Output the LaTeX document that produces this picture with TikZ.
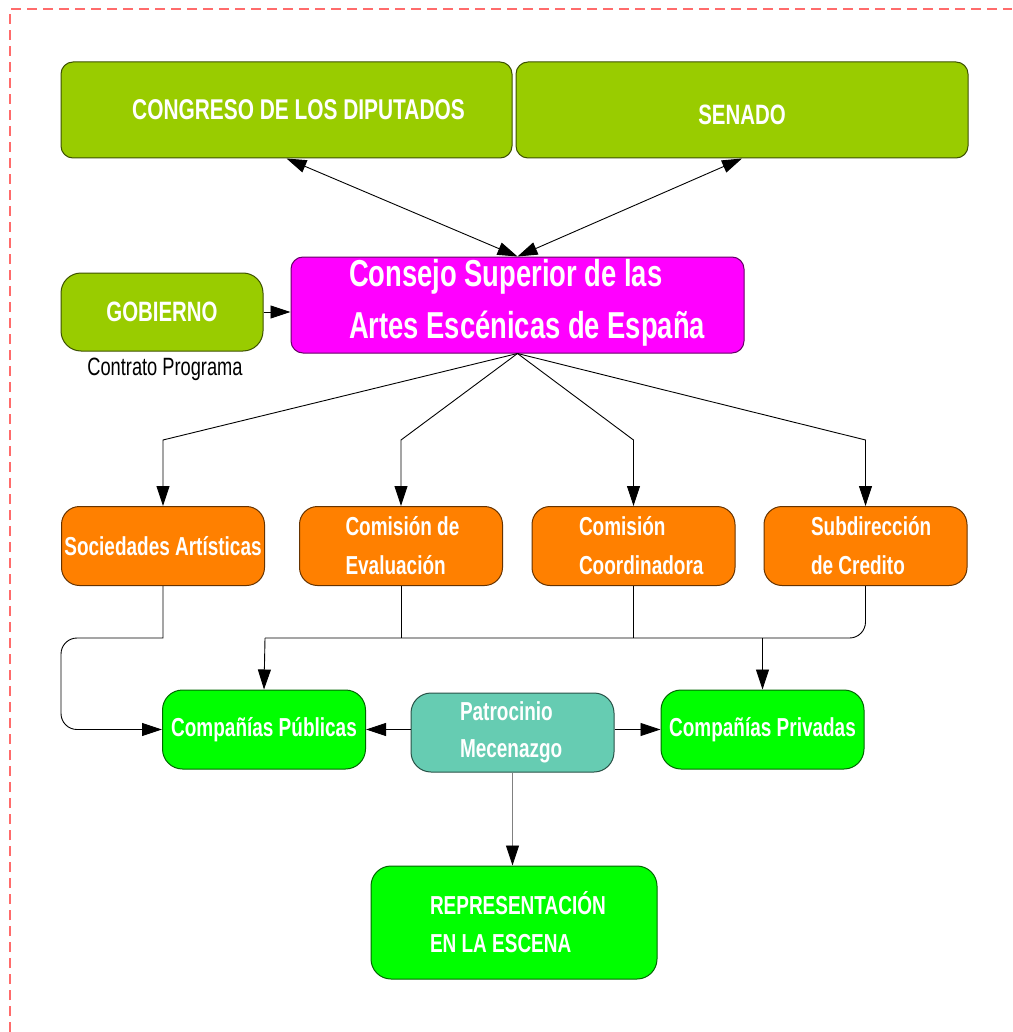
\documentclass[tikz,border=0pt]{standalone}
\usepackage{fontspec}
\setmainfont{Liberation Sans}[FakeStretch=0.73]
\usetikzlibrary{arrows.meta}
\definecolor{cgreen}{HTML}{99CC00}
\definecolor{cmag}{HTML}{FF00FF}
\definecolor{corange}{HTML}{FF8000}
\definecolor{clime}{HTML}{00FF00}
\definecolor{cteal}{HTML}{66CCB2}
\definecolor{cborder}{HTML}{FF6B6B}
\newcommand\twoline[5]{\makebox[#1pt][l]{\hspace*{#2pt}\vbox{\baselineskip=#3pt\hbox{#4}\hbox{#5}}}}
\tikzset{
  box/.style={draw=#1!40!black, fill=#1, line width=1pt, inner sep=0pt, text=white},
  arr/.style={-{Triangle[length=20pt,width=13pt,color=black]}, line width=0.9pt, black},
  greyarr/.style={-{Triangle[length=20pt,width=13pt,color=black]}, line width=0.9pt, draw=black!50},
  darr/.style={{Triangle[length=20pt,width=13pt]}-{Triangle[length=20pt,width=13pt]}, line width=0.9pt, black},
  wire/.style={line width=0.9pt, black},
}
\begin{document}
\begin{tikzpicture}[x=1pt,y=-1pt]
\useasboundingbox (0,0) rectangle (1012,1032);
\fill[white] (0,0) rectangle (1012,1032);
\draw[cborder, line width=1.2pt, dash pattern=on 10pt off 6pt] (10,1032) -- (10,9) -- (1012,9);

% top row
\node[box=cgreen, minimum width=451, minimum height=96, rounded corners=12pt,
      font=\bfseries\fontsize{28.6}{31}\selectfont] (congreso) at (286.5,110)
      {\hspace*{24pt}CONGRESO DE LOS DIPUTADOS};
\node[box=cgreen, minimum width=452, minimum height=96, rounded corners=12pt,
      font=\bfseries\fontsize{28}{31}\selectfont] (senado) at (742,110)
      {\raisebox{-5pt}[\height][\depth]{SENADO}};

% consejo
\node[box=cmag, minimum width=453, minimum height=96, rounded corners=12pt,
      font=\bfseries\fontsize{37.5}{41}\selectfont] (consejo) at (517.5,305)
      {\raisebox{2pt}[\height][\depth]{\twoline{453}{58}{52}{Consejo Superior de las}{Artes Escénicas de España}}};

\node[box=cgreen, minimum width=202, minimum height=78, rounded corners=20pt,
      font=\bfseries\fontsize{28}{31}\selectfont] (gobierno) at (162,312) {GOBIERNO};
\node[font=\fontsize{25}{27}\selectfont, inner sep=0pt] (contrato) at (165,369) {Contrato Programa};

% orange row
\tikzset{orangebox/.style={box=corange, minimum width=203, minimum height=79, rounded corners=18pt,
      font=\bfseries\fontsize{26}{29}\selectfont}}
\node[orangebox] (sociedades) at (163,546) {Sociedades Artísticas};
\node[orangebox] (evaluacion) at (401,546) {\twoline{203}{46}{39}{Comisión de}{Evaluación}};
\node[orangebox] (coordinadora) at (633.5,546) {\twoline{203}{47}{39}{Comisión}{Coordinadora}};
\node[orangebox] (subdireccion) at (865.5,546) {\twoline{203}{47}{39}{Subdirección}{de Credito}};

% green row
\tikzset{limebox/.style={box=clime, minimum width=203, minimum height=79, rounded corners=20pt,
      font=\bfseries\fontsize{26}{29}\selectfont}}
\node[limebox] (publicas) at (264,729.5) {Compañías Públicas};
\node[limebox] (privadas) at (762.5,729.5) {Compañías Privadas};
\node[box=cteal, minimum width=203, minimum height=79, rounded corners=20pt,
      font=\bfseries\fontsize{26}{29}\selectfont] (patrocinio) at (512.5,732.5)
      {\twoline{203}{49}{37}{Patrocinio}{Mecenazgo}};

\node[box=clime, minimum width=286, minimum height=113, rounded corners=20pt,
      font=\bfseries\fontsize{26}{29}\selectfont] (rep) at (514,922.5)
      {\twoline{286}{59}{38}{REPRESENTACIÓN}{EN LA ESCENA}};

% connectors
\draw[darr] (congreso.south) -- (consejo.north);
\draw[darr] (senado.south) -- (consejo.north);
\draw[arr] (gobierno.east) -- (gobierno.east -| consejo.west);

\draw[arr] (consejo.south) -- (sociedades.north |- 0,440) -- (sociedades.north);
\draw[arr] (consejo.south) -- (evaluacion.north |- 0,440) -- (evaluacion.north);
\draw[arr] (consejo.south) -- (coordinadora.north |- 0,440) -- (coordinadora.north);
\draw[arr] (consejo.south) -- (subdireccion.north |- 0,440) -- (subdireccion.north);

\coordinate (busL) at (265,638);
\draw[arr] (sociedades.south) -- (sociedades.south |- busL) [rounded corners=16pt] -- (61,638) -- (61,729.5) -- (publicas.west);
\draw[wire] (evaluacion.south) -- (evaluacion.south |- busL);
\draw[wire] (coordinadora.south) -- (coordinadora.south |- busL);
\draw[wire, rounded corners=16pt] (subdireccion.south) -- (subdireccion.south |- busL) -- (busL);
\draw[arr] (busL) -- (publicas.north);
\draw[arr] (privadas.north |- busL) -- (privadas.north);

\draw[arr] (patrocinio.west |- publicas.east) -- (publicas.east);
\draw[arr] (patrocinio.east |- privadas.west) -- (privadas.west);
\draw[greyarr] (patrocinio.south) -- (patrocinio.south |- rep.north);
\end{tikzpicture}
\end{document}
